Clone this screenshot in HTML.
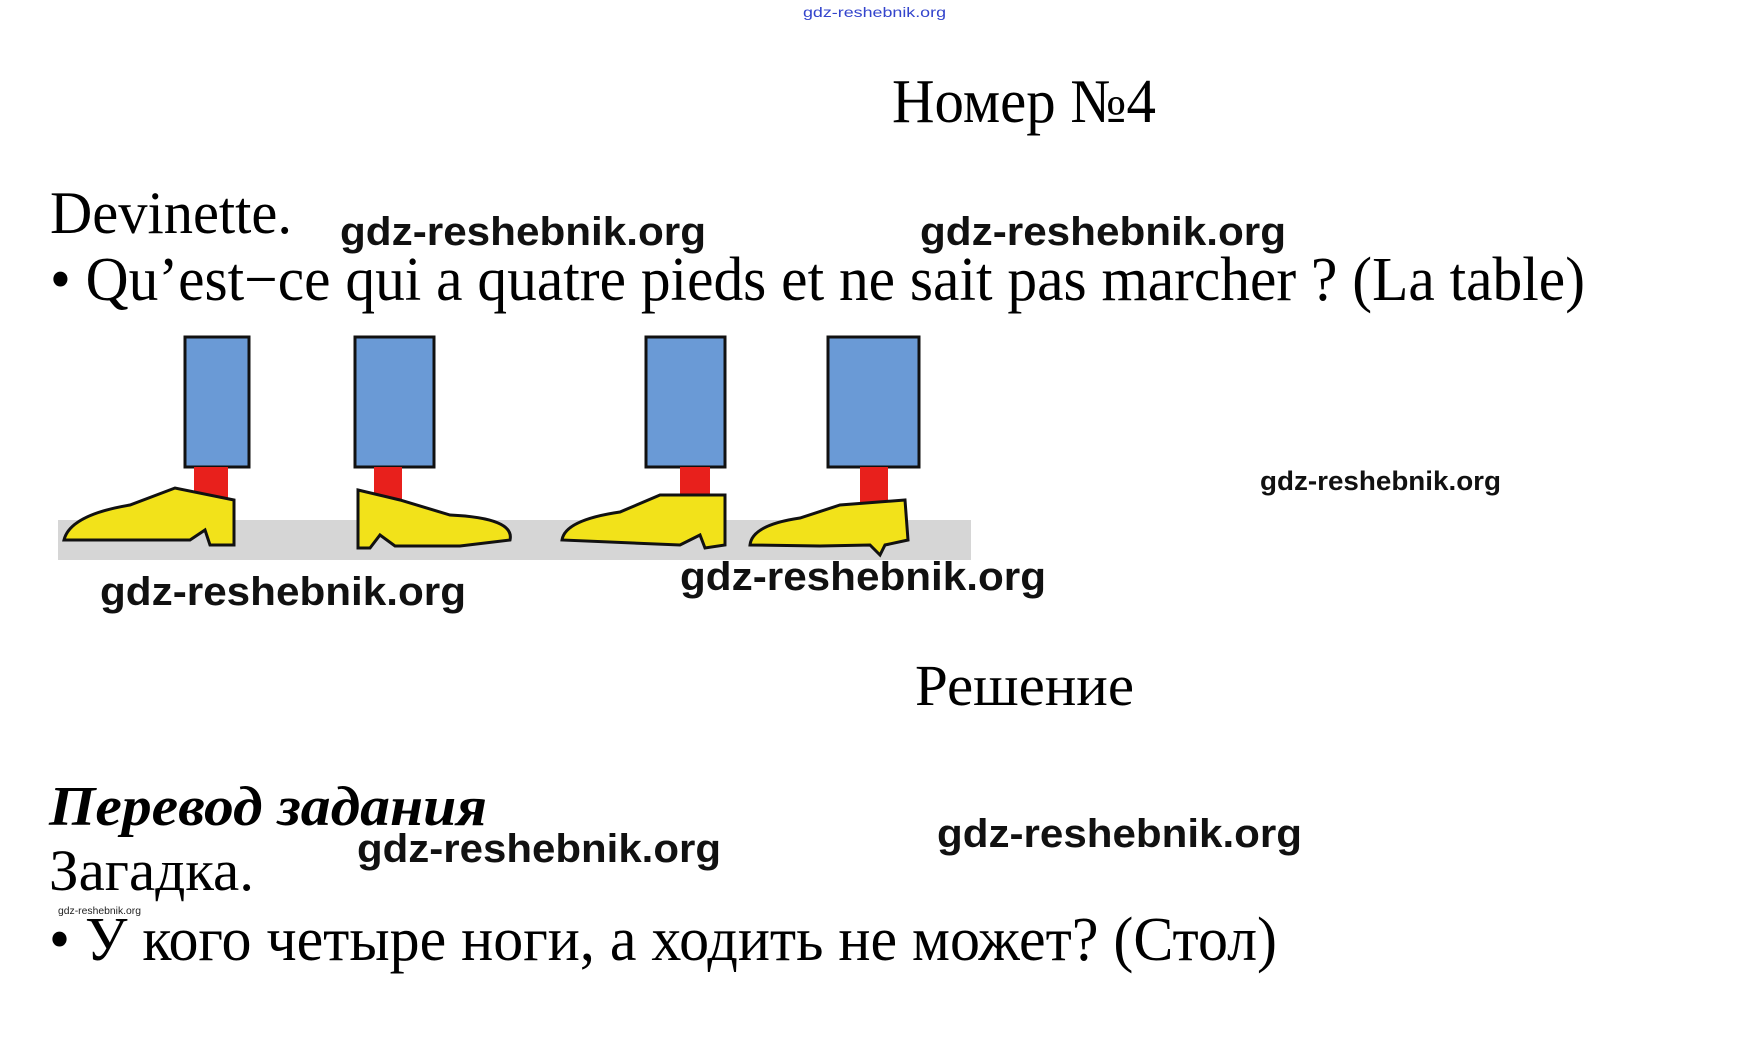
<!DOCTYPE html>
<html><head><meta charset="utf-8"><style>
html,body{margin:0;padding:0;background:#fff;}
svg{display:block;}
.s{font-family:"Liberation Serif","Noto Serif CJK SC",serif;fill:#000;}
.w{font-family:"Liberation Sans",sans-serif;font-weight:bold;fill:#111;}
</style></head><body>
<svg width="1748" height="1056" viewBox="0 0 1748 1056" xmlns="http://www.w3.org/2000/svg">
<text x="803" y="17" font-family="Liberation Sans,sans-serif" font-size="14" fill="#3344cc" textLength="143" lengthAdjust="spacingAndGlyphs">gdz-reshebnik.org</text>
<text class="s" x="892" y="122" font-size="62" textLength="264" lengthAdjust="spacingAndGlyphs">Номер №4</text>
<text class="s" x="50" y="233" font-size="60" textLength="242" lengthAdjust="spacingAndGlyphs">Devinette.</text>
<text class="w" x="340" y="245" font-size="40" textLength="366" lengthAdjust="spacingAndGlyphs">gdz-reshebnik.org</text>
<text class="w" x="920" y="245" font-size="40" textLength="366" lengthAdjust="spacingAndGlyphs">gdz-reshebnik.org</text>
<text class="s" x="50" y="300" font-size="62" textLength="1535" lengthAdjust="spacingAndGlyphs">• Qu’est−ce qui a quatre pieds et ne sait pas marcher ? (La table)</text>

<!-- illustration -->
<rect x="58" y="520" width="913" height="40" fill="#d6d6d6"/>
<g stroke="#111" stroke-width="3">
<rect x="185" y="337" width="64" height="130" fill="#6a9ad6"/>
<rect x="355" y="337" width="79" height="130" fill="#6a9ad6"/>
<rect x="646" y="337" width="79" height="130" fill="#6a9ad6"/>
<rect x="828" y="337" width="91" height="130" fill="#6a9ad6"/>
</g>
<g fill="#e8201c">
<rect x="194" y="467" width="34" height="45"/>
<rect x="374" y="467" width="28" height="45"/>
<rect x="680" y="467" width="30" height="45"/>
<rect x="860" y="467" width="28" height="45"/>
</g>
<g fill="#f2e21a" stroke="#111" stroke-width="3">
<path d="M64 540 Q70 515 130 505 L175 488 L234 500 L234 545 L210 545 L205 530 L190 540 Z"/>
<path d="M358 490 L400 500 L450 515 Q515 518 510 540 L460 546 L395 546 L380 535 L370 548 L358 548 Z"/>
<path d="M562 540 Q565 520 620 512 L660 495 L725 495 L725 545 L705 548 L700 535 L680 545 Z"/>
<path d="M750 545 Q752 525 800 518 L840 505 L905 500 L908 540 L885 545 L880 555 L870 545 L820 546 Z"/>
</g>
<text class="w" x="100" y="605" font-size="40" textLength="366" lengthAdjust="spacingAndGlyphs">gdz-reshebnik.org</text>
<text class="w" x="680" y="590" font-size="40" textLength="366" lengthAdjust="spacingAndGlyphs">gdz-reshebnik.org</text>
<text class="w" x="1260" y="490" font-size="27" textLength="241" lengthAdjust="spacingAndGlyphs">gdz-reshebnik.org</text>

<text class="s" x="915" y="705" font-size="58" textLength="219" lengthAdjust="spacingAndGlyphs">Решение</text>
<text class="s" x="49" y="825" font-size="56" font-weight="bold" font-style="italic" textLength="438" lengthAdjust="spacingAndGlyphs">Перевод задания</text>
<text class="w" x="357" y="862" font-size="40" textLength="364" lengthAdjust="spacingAndGlyphs">gdz-reshebnik.org</text>
<text class="w" x="937" y="847" font-size="40" textLength="365" lengthAdjust="spacingAndGlyphs">gdz-reshebnik.org</text>
<text class="s" x="49" y="890" font-size="58" textLength="205" lengthAdjust="spacingAndGlyphs">Загадка.</text>
<text x="58" y="914" font-family="Liberation Sans,sans-serif" font-size="10" fill="#222" textLength="83" lengthAdjust="spacingAndGlyphs">gdz-reshebnik.org</text>
<text class="s" x="49" y="960" font-size="62" textLength="1228" lengthAdjust="spacingAndGlyphs">• У кого четыре ноги, а ходить не может? (Стол)</text>
</svg>
</body></html>
